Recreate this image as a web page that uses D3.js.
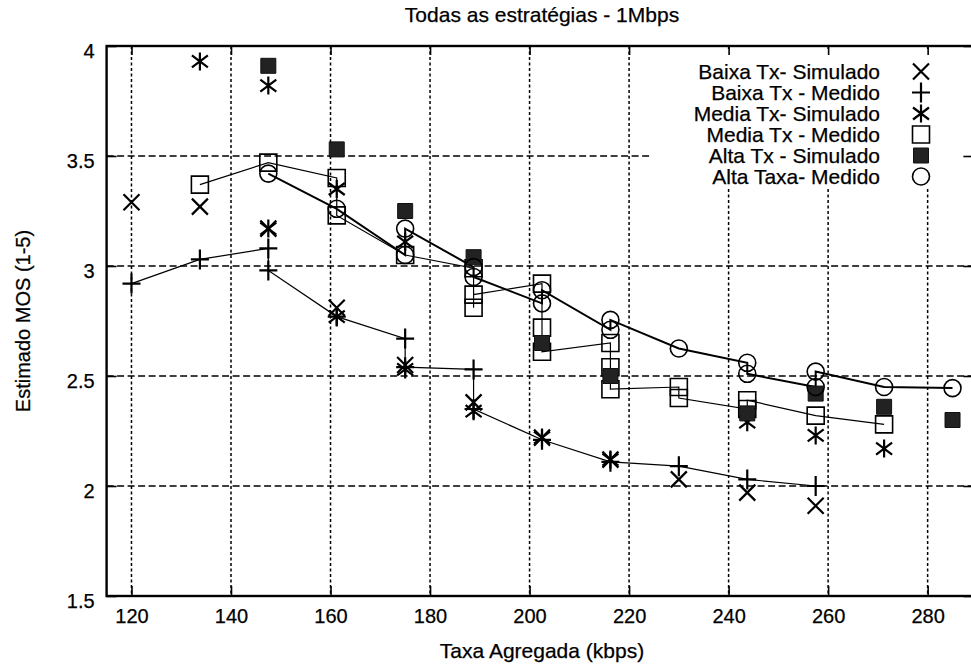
<!DOCTYPE html>
<html><head><meta charset="utf-8">
<script src="https://cdn.jsdelivr.net/npm/d3@7"></script>
<style>
body{margin:0;background:#fff}
svg{display:block;font-family:"Liberation Sans",Arial,Helvetica,sans-serif}
text{stroke:#000;stroke-width:0.25px}
</style>
</head><body>
<svg id="chart" width="971" height="669"></svg>
<script>
// ---------- data ----------
const title = "Todas as estratégias - 1Mbps";
const xLabel = "Taxa Agregada (kbps)";
const yLabel = "Estimado MOS (1-5)";
const xTicks = [120,140,160,180,200,220,240,260,280];
const yTicks = [1.5,2,2.5,3,3.5,4];

const baixaSimX = [120,133.75,147.5,161.25,175,188.75,202.5,216.25,230,243.75,257.5];
const baixaSimY = [3.29,3.27,3.17,2.81,2.55,2.38,2.22,2.12,2.03,1.97,1.91];

const baixaMedX = [120,133.75,147.5,147.5,161.25,175,175,188.75,188.75,202.5,216.25,230,243.75,257.5];
const baixaMedY = [2.92,3.03,3.08,2.98,2.77,2.67,2.54,2.53,2.35,2.21,2.11,2.09,2.03,2.00];

const mediaSimX = [133.75,147.5,147.5,161.25,161.25,175,175,188.75,202.5,216.25,243.75,257.5,271.25];
const mediaSimY = [3.93,3.82,3.17,3.35,2.77,3.11,2.53,2.34,2.22,2.12,2.29,2.23,2.17];

const mediaMedX = [133.75,147.5,161.25,161.25,175,188.75,188.75,188.75,202.5,202.5,202.5,216.25,216.25,216.25,230,230,243.75,243.75,257.5,271.25];
const mediaMedY = [3.37,3.47,3.40,3.23,3.05,2.99,2.81,2.87,2.92,2.72,2.61,2.65,2.54,2.44,2.45,2.40,2.35,2.39,2.32,2.28];

const altaSimX = [147.5,161.25,175,188.75,202.5,216.25,243.75,257.5,271.25,285];
const altaSimY = [3.91,3.53,3.25,3.04,2.65,2.50,2.33,2.42,2.36,2.30];

const altaMedX = [147.5,161.25,175,175,188.75,188.75,202.5,202.5,216.25,216.25,230,243.75,243.75,257.5,257.5,271.25,285];
const altaMedY = [3.42,3.26,3.05,3.17,2.995,2.95,2.83,2.89,2.71,2.755,2.625,2.56,2.51,2.45,2.52,2.45,2.445];

const legendNames = ["Baixa Tx- Simulado","Baixa Tx - Medido","Media Tx- Simulado","Media Tx - Medido","Alta Tx - Simulado","Alta Taxa- Medido"];

// ---------- setup ----------
const svg = d3.select("#chart");
const x = d3.scaleLinear().domain([115,290]).range([106.6,977.4]);
const y = d3.scaleLinear().domain([1.5,4]).range([596,46]);

const series = [
  {xs:baixaSimX, ys:baixaSimY, sym:"x",   line:false},
  {xs:baixaMedX, ys:baixaMedY, sym:"plus",line:true, lw:1.2},
  {xs:mediaSimX, ys:mediaSimY, sym:"star",line:false},
  {xs:mediaMedX, ys:mediaMedY, sym:"sq",  line:true, lw:1.2},
  {xs:altaSimX,  ys:altaSimY,  sym:"fsq", line:false},
  {xs:altaMedX,  ys:altaMedY,  sym:"circ",line:true, lw:2}
];

const symPath = {
  x:    "M-8,-8L8,8M-8,8L8,-8",
  plus: "M-9,0L9,0M0,-10L0,10",
  star: "M0,-9L0,9M-8,-6L8,6M-8,6L8,-6",
  sq:   "M-8.5,-8.5H8.5V8.5H-8.5Z",
  fsq:  "M-7.5,-7.5H7.5V7.5H-7.5Z",
  circ: d3.symbol(d3.symbolCircle, Math.PI*8.5*8.5)()
};
function drawSym(g, s){
  const p = g.append("path").attr("d", symPath[s]);
  if (s==="fsq") p.attr("fill","#222").attr("stroke","#111").attr("stroke-width",1);
  else p.attr("fill","none").attr("stroke","#000").attr("stroke-width", s==="circ"||s==="sq"?1.6:2.2);
}

const [x0,x1] = x.range(), [yb,yt] = [y(1.5), y(4)];

// ---------- grid ----------
const grid = svg.append("g").attr("stroke","#000").attr("stroke-width",1.5);
grid.selectAll(".vg").data(xTicks).join("line")
  .attr("x1",d=>x(d)).attr("x2",d=>x(d)).attr("y1",yt).attr("y2",yb)
  .attr("stroke-dasharray","3,2.5");
grid.selectAll(".hg").data(yTicks.filter(d=>d>1.5&&d<4)).join("line")
  .attr("x1",x0).attr("x2",x1).attr("y1",d=>y(d)).attr("y2",d=>y(d))
  .attr("stroke-dasharray","7,3.5");

// legend background box
svg.append("rect").attr("x",651).attr("y",49).attr("width",330).attr("height",139).attr("fill","#fff");

// ---------- axes ----------
const fs = 20;
const gx = svg.append("g").attr("transform",`translate(0,${yb})`)
  .call(d3.axisBottom(x).tickValues(xTicks).tickSizeInner(-10).tickSizeOuter(0).tickPadding(13));
const gy = svg.append("g").attr("transform",`translate(${x0},0)`)
  .call(d3.axisLeft(y).tickValues(yTicks).tickFormat(d=>String(d)).tickSizeInner(-10).tickSizeOuter(0).tickPadding(12));
const gt = svg.append("g").attr("transform",`translate(0,${yt})`)
  .call(d3.axisTop(x).tickValues(xTicks).tickSizeInner(-9).tickSizeOuter(0).tickFormat(""));
const gr = svg.append("g").attr("transform",`translate(${x1},0)`)
  .call(d3.axisRight(y).tickValues(yTicks).tickSizeInner(-14).tickSizeOuter(0).tickFormat(""));
[gx,gy,gt,gr].forEach(g=>{
  g.select(".domain").remove();
  g.selectAll("line").attr("stroke","#000").attr("stroke-width",1.6);
  g.selectAll("text").attr("fill","#000").style("font-size",fs+"px").style("font-family",'"Liberation Sans",Arial,sans-serif');
});
gy.selectAll("text").attr("dy","0.55em");

// frame
svg.append("rect").attr("x",x0).attr("y",yt).attr("width",x1-x0).attr("height",yb-yt)
  .attr("fill","none").attr("stroke","#000").attr("stroke-width",2.4);

// ---------- data ----------
const lineGen = d3.line().x(d=>x(d[0])).y(d=>y(d[1]));
series.forEach(s=>{
  const pts = s.xs.map((v,i)=>[v,s.ys[i]]);
  if (s.line) svg.append("path").datum(pts).attr("d",lineGen)
     .attr("fill","none").attr("stroke","#000").attr("stroke-width",s.lw);
});
series.forEach(s=>{
  const pts = s.xs.map((v,i)=>[v,s.ys[i]]);
  const g = svg.append("g");
  pts.forEach(p=>{
    const m = g.append("g").attr("transform",`translate(${x(p[0])},${y(p[1])})`);
    drawSym(m, s.sym);
  });
});

// ---------- legend ----------
const lg = svg.append("g");
legendNames.forEach((n,i)=>{
  const yy = 71.5 + 21*i;
  lg.append("text").attr("x",880).attr("y",yy+7).attr("text-anchor","end")
    .style("font-size","21px").text(n);
  const m = lg.append("g").attr("transform",`translate(921,${yy})`);
  drawSym(m, series[i].sym);
});

// ---------- titles ----------
svg.append("text").attr("x",(x0+x1)/2).attr("y",22).attr("text-anchor","middle")
  .style("font-size","21px").text(title);
svg.append("text").attr("x",(x0+x1)/2).attr("y",658).attr("text-anchor","middle")
  .style("font-size","21px").text(xLabel);
svg.append("text").attr("transform",`translate(30,${(yt+yb)/2}) rotate(-90)`).attr("text-anchor","middle")
  .style("font-size","20px").text(yLabel);
</script>
</body></html>
